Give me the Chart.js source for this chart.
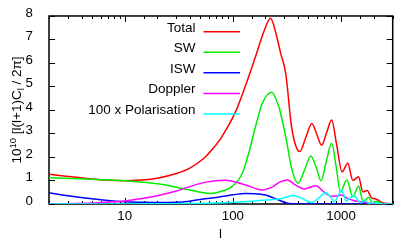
<!DOCTYPE html>
<html>
<head>
<meta charset="utf-8">
<script src="https://cdn.jsdelivr.net/npm/chart.js@4/dist/chart.umd.min.js"></script>
<style>
  html, body { margin: 0; padding: 0; background: #fff; }
</style>
</head>
<body>
<canvas id="clChart" width="415" height="249"></canvas>
<script>
// CMB power spectrum, 10^10 l(l+1)C_l/2pi against multipole l
const totalL = [2, 3, 5, 7, 10, 14, 20, 30, 40, 55, 66, 79, 106, 130, 160, 194, 223, 249, 277, 308, 347, 380, 416, 472, 537, 596, 661, 736, 818, 914, 1021, 1153, 1285, 1450, 1590, 1745, 1900, 2120, 2370, 2700, 3000];
const totalV = [1.27, 1.17, 1.06, 1.01, 0.99, 1.02, 1.1, 1.3, 1.53, 1.98, 2.38, 2.86, 3.93, 5.0, 6.2, 7.35, 7.9, 7.3, 6.4, 5.56, 3.36, 2.5, 2.23, 2.83, 3.43, 2.97, 2.5, 3.04, 3.57, 2.47, 1.37, 1.73, 1.0, 1.16, 0.52, 0.57, 0.28, 0.2, 0.07, 0.02, 0.01];

const swL = [2, 5, 10, 17, 21, 35, 50, 64, 80, 98, 122, 140, 162, 187, 228, 266, 276, 310, 350, 400, 460, 526, 590, 652, 730, 818, 900, 985, 1130, 1285, 1450, 1600, 1800, 1950, 2150, 2350, 3000];
const swV = [1.12, 1.05, 0.99, 0.9, 0.85, 0.65, 0.5, 0.45, 0.55, 0.74, 1.3, 2.15, 3.3, 4.28, 4.76, 4.14, 3.86, 2.8, 1.5, 0.88, 1.45, 2.04, 1.55, 0.99, 1.8, 2.58, 1.6, 0.52, 1.02, 0.31, 0.77, 0.1, 0.29, 0.03, 0.12, 0.02, 0];

const iswL = [2, 3, 5, 7, 10, 15, 20, 30, 40, 55, 75, 100, 131, 160, 200, 240, 276, 310, 350, 500, 3000];
const iswV = [0.48, 0.35, 0.22, 0.15, 0.1, 0.07, 0.06, 0.07, 0.12, 0.22, 0.3, 0.39, 0.45, 0.44, 0.38, 0.25, 0.14, 0.05, 0.01, 0, 0];

const dopL = [2, 3, 5, 7, 10, 14, 20, 30, 40, 55, 85, 131, 187, 230, 276, 319, 380, 456, 585, 700, 800, 900, 1000, 1150, 1300, 1500, 1800, 2200, 3000];
const dopV = [0, 0.01, 0.04, 0.08, 0.13, 0.22, 0.35, 0.55, 0.74, 0.92, 1.01, 0.81, 0.6, 0.72, 0.95, 1.02, 0.8, 0.64, 0.78, 0.5, 0.33, 0.34, 0.38, 0.24, 0.15, 0.1, 0.04, 0.01, 0];

const polL = [2, 10, 20, 40, 70, 100, 150, 200, 276, 360, 430, 530, 620, 720, 800, 867, 940, 1000, 1060, 1112, 1200, 1320, 1450, 1520, 1660, 1800, 2000, 2300, 3000];
const polV = [0, 0, 0.01, 0.02, 0.04, 0.07, 0.12, 0.17, 0.22, 0.36, 0.25, 0.06, 0.25, 0.48, 0.3, 0.1, 0.35, 0.58, 0.4, 0.12, 0.25, 0.35, 0.12, 0.05, 0.17, 0.03, 0.05, 0.01, 0];

const seriesNames = ['Total', 'SW', 'ISW', 'Doppler', '100 x Polarisation'];
const seriesColors = ['#ff0000', '#00ee00', '#0000ff', '#ff00ff', '#00ffff'];

const FONT = '"Liberation Sans", Arial, sans-serif';

function pairUp(xs, ys) {
  return xs.map((x, i) => ({ x: x, y: ys[i] }));
}

// frame with inward ticks, like the original plot
const framePlugin = {
  id: 'frame',
  beforeDatasetsDraw(chart) {
    const { ctx, chartArea: a } = chart;
    const xs = chart.scales.x, ys = chart.scales.y;
    ctx.save();
    ctx.strokeStyle = '#000';
    ctx.lineWidth = 1;
    xs.ticks.forEach(t => {
      const px = Math.round(xs.getPixelForValue(t.value)) + 0.5;
      const major = Math.abs(Math.log10(t.value) % 1) < 1e-9;
      const len = major ? 6 : 3;
      ctx.beginPath();
      ctx.moveTo(px, a.bottom); ctx.lineTo(px, a.bottom - len);
      ctx.moveTo(px, a.top); ctx.lineTo(px, a.top + len);
      ctx.stroke();
    });
    ys.ticks.forEach(t => {
      const py = Math.round(ys.getPixelForValue(t.value)) + 0.5;
      ctx.beginPath();
      ctx.moveTo(a.left, py); ctx.lineTo(a.left + 6, py);
      ctx.moveTo(a.right, py); ctx.lineTo(a.right - 6, py);
      ctx.stroke();
    });
    ctx.lineWidth = 1.5;
    ctx.strokeRect(a.left, a.top, a.right - a.left, a.bottom - a.top);
    ctx.restore();
  },
  afterDraw(chart) {
    const ctx = chart.ctx;
    ctx.save();
    ctx.fillStyle = '#000';
    // x axis title
    ctx.font = '13.5px ' + FONT;
    ctx.textAlign = 'center';
    ctx.textBaseline = 'middle';
    ctx.fillText('l', 220.5, 234);

    // y axis title: 10^10 [l(l+1)C_l / 2pi]
    const parts = [
      { s: '10', size: 13.5, dy: 0 },
      { s: '10', size: 9.5, dy: -5.5 },
      { s: ' [l(l+1)C', size: 13.5, dy: 0 },
      { s: 'l', size: 9.5, dy: 3 },
      { s: ' / 2\u03c0]', size: 13.5, dy: 0 }
    ];
    let total = 0;
    parts.forEach(p => {
      ctx.font = p.size + 'px ' + FONT;
      p.w = ctx.measureText(p.s).width;
      total += p.w;
    });
    ctx.translate(21, 110);
    ctx.rotate(-Math.PI / 2);
    ctx.textAlign = 'left';
    ctx.textBaseline = 'alphabetic';
    let x = -total / 2;
    parts.forEach(p => {
      ctx.font = p.size + 'px ' + FONT;
      ctx.fillText(p.s, x, p.dy);
      x += p.w;
    });
    ctx.restore();

    // key
    ctx.save();
    ctx.font = '13.5px ' + FONT;
    ctx.textAlign = 'right';
    ctx.textBaseline = 'alphabetic';
    seriesNames.forEach((name, i) => {
      const y = 31.7 + i * 20.57;
      ctx.fillStyle = '#000';
      ctx.fillText(name, 195.5, y);
      ctx.strokeStyle = seriesColors[i];
      ctx.lineWidth = 1.5;
      ctx.beginPath();
      ctx.moveTo(203.5, y);
      ctx.lineTo(240, y);
      ctx.stroke();
    });
    ctx.restore();
  }
};

const allL = [totalL, swL, iswL, dopL, polL];
const allV = [totalV, swV, iswV, dopV, polV];

new Chart(document.getElementById('clChart'), {
  type: 'line',
  data: {
    datasets: seriesNames.map((name, i) => ({
      label: name,
      data: pairUp(allL[i], allV[i]),
      borderColor: seriesColors[i],
      borderWidth: 1.5,
      pointRadius: 0,
      fill: false,
      cubicInterpolationMode: 'monotone',
      order: 5 - i
    }))
  },
  options: {
    responsive: false,
    animation: false,
    events: [],
    layout: { padding: { top: 15.7, right: 22.3, left: 0, bottom: 0 } },
    plugins: { legend: { display: false }, tooltip: { enabled: false } },
    scales: {
      x: {
        type: 'logarithmic',
        min: 2,
        max: 3000,
        grid: { display: false },
        border: { display: false },
        afterFit(scale) { scale.height = 45; },
        ticks: {
          autoSkip: false,
          maxRotation: 0,
          padding: -4,
          color: '#000',
          font: { family: FONT, size: 13.3 },
          callback: v => ([10, 100, 1000].includes(v) ? String(v) : '')
        }
      },
      y: {
        min: 0,
        max: 8,
        grid: { display: false },
        border: { display: false },
        afterFit(scale) { scale.width = 49; },
        ticks: {
          stepSize: 1,
          padding: 8,
          labelOffset: -3,
          color: '#000',
          font: { family: FONT, size: 13.3 }
        }
      }
    }
  },
  plugins: [framePlugin]
});
</script>
</body>
</html>
